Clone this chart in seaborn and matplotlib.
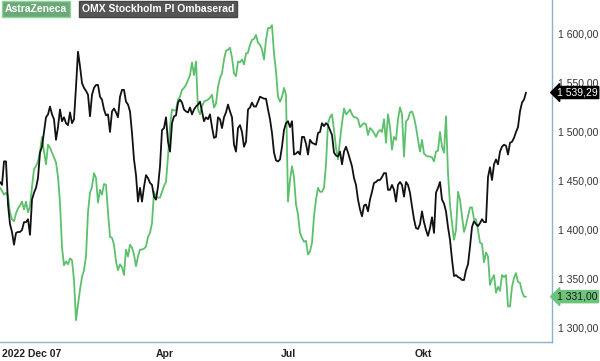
import numpy as np
import pandas as pd
import matplotlib
matplotlib.use("Agg")
import matplotlib.pyplot as plt
import matplotlib.transforms as mtransforms
import seaborn as sns

# ---------------- data ----------------
astrazeneca = [
    1442, 1439, 1435, 1437, 1434, 1417, 1410, 1408, 1416, 1421, 1424, 1428, 1420, 1428, 1417, 1423,
    1443, 1461, 1464, 1469, 1479, 1494, 1479, 1466, 1486, 1483, 1478, 1473, 1468, 1453, 1427, 1381,
    1363, 1367, 1364, 1370, 1368, 1348, 1307, 1323, 1338, 1351, 1358, 1372, 1417, 1437, 1443, 1457,
    1452, 1427, 1440, 1435, 1446, 1445, 1417, 1392, 1391, 1384, 1367, 1358, 1364, 1361, 1353, 1379,
    1372, 1384, 1381, 1374, 1362, 1372, 1379, 1379, 1380, 1382, 1392, 1396, 1406, 1438, 1433, 1432,
    1432, 1438, 1444, 1448, 1474, 1504, 1522, 1521, 1521, 1532, 1535, 1542, 1544, 1547, 1552, 1557,
    1570, 1557, 1571, 1522, 1517, 1525, 1530, 1531, 1532, 1534, 1537, 1524, 1528, 1545, 1554, 1559,
    1573, 1582, 1583, 1585, 1575, 1559, 1556, 1571, 1570, 1573, 1568, 1579, 1580, 1588, 1593, 1594,
    1598, 1590, 1588, 1583, 1573, 1593, 1605, 1605, 1608, 1579, 1561, 1535, 1530, 1535, 1544, 1537,
    1428, 1450, 1464, 1453, 1425, 1415, 1396, 1391, 1387, 1388, 1374, 1377, 1386, 1413, 1430, 1442,
    1438, 1438, 1442, 1466, 1508, 1514, 1517, 1501, 1483, 1471, 1491, 1508, 1523, 1517, 1519, 1522,
    1517, 1514, 1514, 1512, 1504, 1506, 1508, 1507, 1496, 1503, 1501, 1498, 1494, 1499, 1501, 1499,
    1512, 1488, 1517, 1504, 1481, 1494, 1491, 1512, 1524, 1517, 1474, 1510, 1512, 1519, 1520, 1514,
    1504, 1491, 1479, 1491, 1477, 1475, 1474, 1474, 1473, 1469, 1479, 1480, 1499, 1484, 1478, 1515,
    1457, 1425, 1406, 1389, 1399, 1438, 1430, 1413, 1397, 1404, 1413, 1422, 1422, 1410, 1410, 1399,
    1386, 1385, 1366, 1376, 1372, 1343, 1349, 1353, 1335, 1341, 1337, 1353, 1351, 1353, 1321, 1321,
    1341, 1350, 1355, 1346, 1345, 1336, 1331, 1331.00,
]
omx_pi = [
    1448, 1445, 1469, 1469, 1425, 1405, 1397, 1384, 1396, 1397, 1397, 1399, 1407, 1407, 1410, 1394,
    1430, 1437, 1442, 1452, 1478, 1484, 1499, 1514, 1517, 1525, 1517, 1512, 1491, 1504, 1522, 1510,
    1514, 1508, 1506, 1519, 1508, 1512, 1545, 1581, 1566, 1549, 1544, 1541, 1537, 1515, 1537, 1544,
    1547, 1547, 1535, 1532, 1522, 1516, 1517, 1499, 1520, 1523, 1519, 1514, 1535, 1542, 1542, 1530,
    1527, 1520, 1498, 1471, 1455, 1428, 1442, 1428, 1443, 1455, 1452, 1447, 1445, 1433, 1430, 1443,
    1464, 1501, 1503, 1514, 1489, 1479, 1508, 1515, 1516, 1529, 1532, 1529, 1522, 1520, 1519, 1524,
    1517, 1522, 1525, 1527, 1530, 1520, 1510, 1514, 1512, 1517, 1504, 1493, 1494, 1514, 1512, 1503,
    1514, 1519, 1527, 1520, 1514, 1486, 1479, 1503, 1506, 1499, 1484, 1489, 1522, 1524, 1529, 1525,
    1525, 1530, 1535, 1534, 1533, 1533, 1522, 1512, 1498, 1478, 1470, 1469, 1471, 1484, 1501, 1508,
    1510, 1504, 1510, 1476, 1477, 1479, 1476, 1494, 1494, 1487, 1476, 1491, 1488, 1487, 1486, 1498,
    1499, 1508, 1505, 1508, 1506, 1501, 1496, 1478, 1475, 1474, 1479, 1466, 1479, 1484, 1478, 1471,
    1464, 1452, 1445, 1430, 1420, 1413, 1424, 1425, 1418, 1430, 1438, 1447, 1448, 1450, 1450, 1453,
    1457, 1457, 1440, 1440, 1445, 1440, 1428, 1445, 1448, 1445, 1433, 1448, 1445, 1437, 1423, 1410,
    1401, 1400, 1405, 1418, 1407, 1399, 1393, 1401, 1412, 1396, 1437, 1442, 1448, 1430, 1426, 1418,
    1402, 1389, 1369, 1352, 1353, 1351, 1350, 1348, 1348, 1358, 1364, 1382, 1402, 1408, 1405, 1403,
    1406, 1410, 1407, 1407, 1453, 1463, 1450, 1466, 1471, 1466, 1479, 1484, 1486, 1485, 1476, 1488,
    1489, 1493, 1499, 1504, 1520, 1529, 1532, 1539.29,
]
series_names = ["AstraZeneca", "OMX Stockholm PI Ombaserad"]
series_colors = ["#5cc06c", "#111111"]
tick_pos = [16, 82.5, 144, 211.5]
tick_labels = ["2022 Dec 07", "Apr", "Jul", "Okt"]
red_tick_pos = [55, 173.5]
y_ticks = [1300, 1350, 1400, 1450, 1500, 1550, 1600]

# ---------------- figure ----------------
sns.set_style("white")
plt.rcParams["font.family"] = ["Liberation Sans", "DejaVu Sans"]

fig = plt.figure(figsize=(6.0, 3.61), dpi=100)
ax = fig.add_axes([0.0, 0.0526, 0.92, 0.9474])

df = pd.DataFrame({
    "day": np.concatenate([np.arange(len(astrazeneca)), np.arange(len(omx_pi))]),
    "value": np.concatenate([astrazeneca, omx_pi]),
    "series": [series_names[0]] * len(astrazeneca) + [series_names[1]] * len(omx_pi),
})
sns.lineplot(data=df, x="day", y="value", hue="series", palette=dict(zip(series_names, series_colors)),
             linewidth=1.3, legend=False, ax=ax)

ax.set_xlim(0, 276)
ax.set_ylim(1284.7, 1633.7)
ax.set_xlabel("")
ax.set_ylabel("")

spine_c = "#8db1cb"
for s in ["top", "left"]:
    ax.spines[s].set_visible(False)
for s in ["right", "bottom"]:
    ax.spines[s].set_visible(True)
    ax.spines[s].set_color(spine_c)
    ax.spines[s].set_linewidth(1.0)

# x ticks
ax.set_xticks(tick_pos)
ax.set_xticklabels(tick_labels, fontsize=7.5, fontweight="bold", color="#222222")
ax.set_xticks(red_tick_pos, minor=True)
ax.tick_params(axis="x", which="major", direction="out", length=4, width=1, color=spine_c, pad=1.0)
ax.tick_params(axis="x", which="minor", direction="out", length=4, width=1, color="#ff5a5a")

# y ticks on right
ax.yaxis.tick_right()
ax.set_yticks(y_ticks)
ax.set_yticklabels([f"{v:,.2f}".replace(",", " ").replace(".", ",") for v in y_ticks],
                   fontsize=7.5, color="#333333")
ax.tick_params(axis="y", which="both", length=0, pad=4)
for lbl in ax.get_yticklabels():
    lbl.set_horizontalalignment("left")

# last-value tags
trans = mtransforms.blended_transform_factory(ax.transAxes, ax.transData)
def fmt(v):
    return f"{v:,.2f}".replace(",", " ").replace(".", ",")
ax.text(1.009, omx_pi[-1], fmt(omx_pi[-1]), transform=trans, fontsize=7.5, color="white",
        va="center", ha="left", zorder=10, clip_on=False,
        bbox=dict(boxstyle="larrow,pad=0.1", fc="#000000", ec="#000000"))
ax.text(1.009, astrazeneca[-1], fmt(astrazeneca[-1]), transform=trans, fontsize=7.5, color="#1a1a1a",
        va="center", ha="left", zorder=10, clip_on=False,
        bbox=dict(boxstyle="larrow,pad=0.1", fc="#6cc47a", ec="#6cc47a"))

# legend chips
fig.text(0.008, 0.975, series_names[0], fontsize=7.5, fontweight="bold", color="white",
         va="center", ha="left",
         bbox=dict(boxstyle="square,pad=0.25", fc="#6aaa79", ec="#8fd39b", lw=1))
fig.text(0.136, 0.975, series_names[1], fontsize=7.5, fontweight="bold", color="white",
         va="center", ha="left",
         bbox=dict(boxstyle="square,pad=0.25", fc="#555555", ec="#444444", lw=1))

fig.savefig("out.png", dpi=100)
